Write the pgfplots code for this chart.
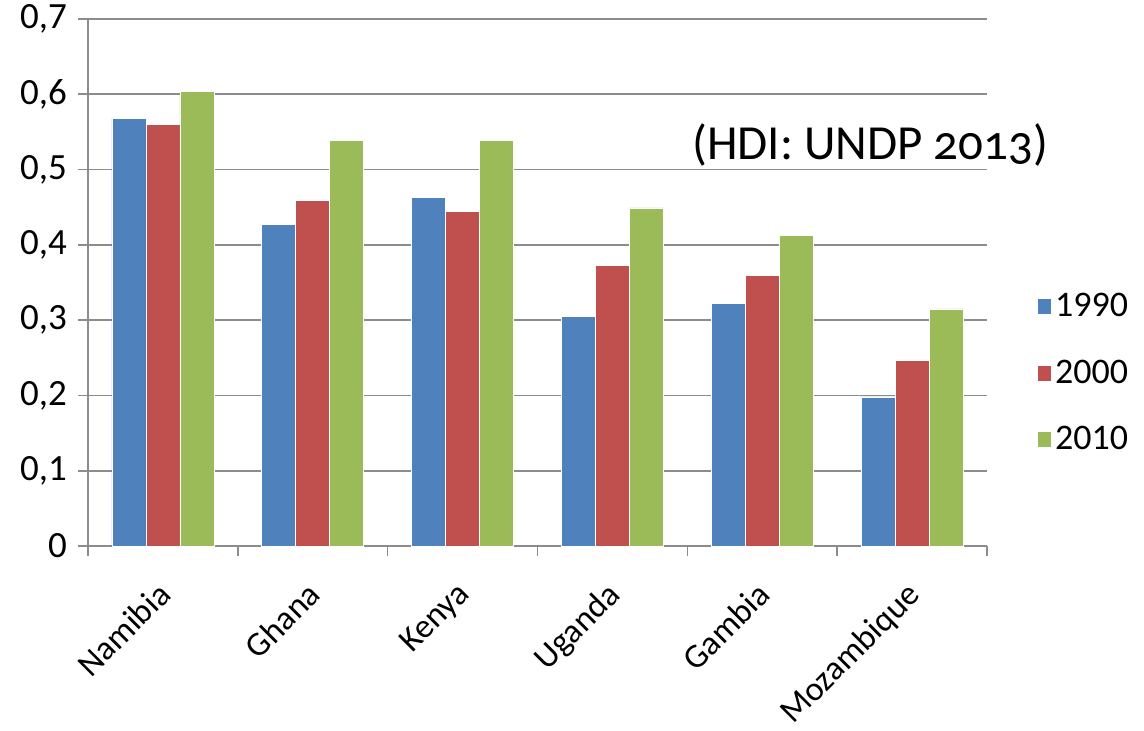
\documentclass[border=0pt]{standalone}
\usepackage{pgfplots}
\pgfplotsset{compat=1.18}
\usepackage{fontspec}
\setmainfont{Carlito}
\definecolor{cblue}{HTML}{4F81BD}
\definecolor{cred}{HTML}{C0504D}
\definecolor{cgreen}{HTML}{9BBB59}
\definecolor{cgrid}{HTML}{8C8C8C}
\begin{document}
\begin{tikzpicture}
\begin{axis}[
  name=ax,
  scale only axis,
  width=449.5pt, height=263.5pt,
  ybar=0pt, bar width=17pt,
  xmin=-0.5, xmax=5.5,
  ymin=0, ymax=0.7,
  ytick={0,0.1,...,0.7},
  yticklabels={0,{0,1},{0,2},{0,3},{0,4},{0,5},{0,6},{0,7}},
  xtick={0,1,2,3,4,5},
  xticklabels={Namibia,Ghana,Kenya,Uganda,Gambia,Mozambique},
  minor xtick={-0.5,0.5,1.5,2.5,3.5,4.5,5.5},
  major x tick style={draw=none},
  tick align=outside,
  major tick length=5pt, minor tick length=5pt,
  tick style={cgrid, line width=0.8pt},
  axis x line*=bottom, axis y line*=left,
  axis line style={cgrid, line width=0.8pt, -},
  ymajorgrids, grid style={cgrid, line width=0.8pt},
  yticklabel style={font=\fontsize{18.5}{21}\selectfont, black, xshift=-2pt},
  xticklabel style={font=\fontsize{17}{20}\selectfont, black, rotate=45, anchor=north east, xshift=-7.5pt, yshift=-2.5pt},
  legend style={draw=none, at={(1.048,0.328)}, anchor=west,
    font=\fontsize{18}{21}\selectfont, row sep=16pt,
    legend cell align=left},
  legend image code/.code={\fill[#1] (0pt,-4pt) rectangle (7pt,4pt);},
  clip=false,
]
\addplot[fill=cblue, draw=white, line width=0.3pt] coordinates {(0,0.568) (1,0.427) (2,0.463) (3,0.305) (4,0.322) (5,0.198)};
\addplot[fill=cred, draw=white, line width=0.3pt] coordinates {(0,0.560) (1,0.459) (2,0.444) (3,0.373) (4,0.359) (5,0.246)};
\addplot[fill=cgreen, draw=white, line width=0.3pt] coordinates {(0,0.604) (1,0.539) (2,0.539) (3,0.449) (4,0.413) (5,0.315)};
\legend{1990,2000,2010}
\node[inner sep=1pt, font=\fontsize{24.5}{28}\selectfont\addfontfeatures{Numbers=OldStyle}] at (rel axis cs:0.87,0.761) {(HDI: UNDP 2013)};
\end{axis}
\pgfresetboundingbox
\path[use as bounding box] ([shift={(-44pt,-92.5pt)}]ax.south west) rectangle ([shift={(78.5pt,9.5pt)}]ax.north east);
\end{tikzpicture}
\end{document}
